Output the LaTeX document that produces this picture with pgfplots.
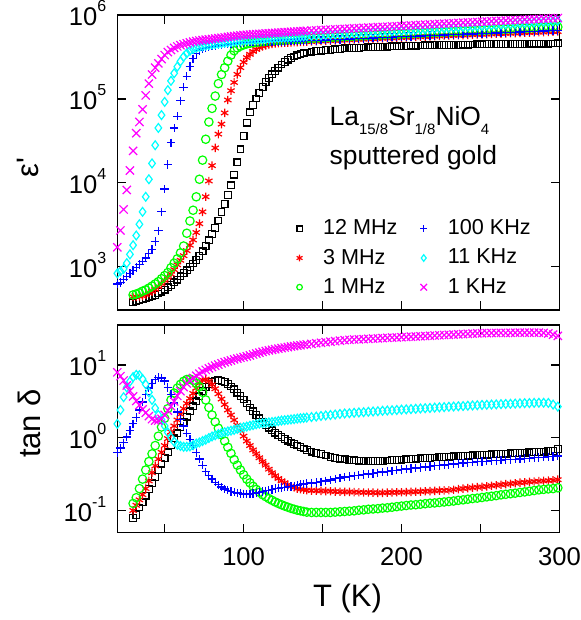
\documentclass[border=0pt]{standalone}
\usepackage{fontspec}
\setmainfont{Liberation Sans}
\usepackage{pgfplots}
\usepackage{pgfplotstable}
\pgfplotsset{compat=1.18}
\definecolor{ogreen}{RGB}{0,255,0}
\definecolor{ored}{RGB}{255,0,0}
\definecolor{oblue}{RGB}{0,0,255}
\definecolor{ocyan}{RGB}{0,255,255}
\definecolor{omag}{RGB}{255,0,255}
\newcommand*\sups[1]{\raisebox{7pt}{\fontsize{8}{9}\selectfont#1}}
\newcommand*\subs[1]{\raisebox{-4.5pt}{\fontsize{7.5}{8}\selectfont#1}}

\pgfplotstableread{
T bk rd gr bl cy mg
20 nan nan nan 620 830 1700
22 nan nan nan 650 880 2700
24 nan nan nan 700 940 4800
26 nan nan nan 760 1100 8200
28 nan nan nan 830 1400 14000
30 375 436 460 900 1800 24000
32 385 438 472 975 2350 39000
34 398 441 488 1060 3200 53000
36 412 446 510 1160 4500 75000
38 422 462 528 1270 6800 110000
40 433 482 555 1420 11000 152000
42 445 505 586 1600 17000 195000
44 458 535 622 1990 28000 235000
46 478 578 662 2670 45000 265000
48 503 625 718 4500 64000 298000
50 532 683 782 8400 92000 333000
52 565 745 850 16500 127000 362000
54 605 815 970 30000 164000 382000
56 648 920 1100 45000 202000 405000
58 700 1050 1240 62000 242000 422000
60 765 1190 1460 95000 280000 437000
62 835 1350 1760 138000 318000 448000
64 905 1550 2500 186000 350000 460000
66 990 1800 3500 242000 375000 470000
68 1090 2080 4700 300000 393000 481000
70 1200 2550 6800 345000 405000 489000
72 1340 3250 11000 376000 415000 496000
74 1520 4500 18600 397000 425000 502000
76 1760 6800 33000 408000 432000 508000
78 2060 10500 53000 417000 438000 513000
80 2450 16000 77000 425000 445000 518000
82 2900 26000 108000 432000 450000 524000
84 3550 38000 152000 438000 456000 530000
86 4450 50000 195000 443000 461000 536000
88 5600 68000 235000 448000 467000 542000
90 7100 97000 282000 452000 472000 548000
92 9300 125000 332000 456000 478000 554000
94 12500 157000 375000 460000 484000 560000
96 17500 196000 405000 464000 489000 566000
98 25000 236000 425000 468000 495000 571000
100 36000 274000 440000 472000 500000 577000
102 52000 310000 452000 473000 502000 581000
104 69000 340000 460000 474000 505000 584000
106 85000 368000 466000 475000 508000 588000
108 101000 390000 472000 476000 511000 591000
110 118000 408000 477000 477000 514000 595000
112 138000 422000 481000 478000 517000 598000
114 158000 434000 485000 479000 520000 602000
116 177000 444000 489000 480000 523000 605000
118 196000 451000 493000 481000 526000 609000
120 216000 457000 497000 482000 529000 612000
122 236000 461000 499000 483000 532000 616000
124 257000 464000 501000 484000 535000 619000
126 276000 467000 504000 485000 538000 623000
128 293000 469000 506000 486000 541000 626000
130 307000 471000 508000 487000 544000 630000
132 320000 473000 511000 488000 547000 633000
134 331000 475000 513000 489000 550000 637000
136 341000 477000 515000 490000 553000 640000
138 349000 479000 518000 491000 556000 644000
140 357000 481000 520000 492000 560000 647000
143 366e3 483e3 524e3 495e3 564e3 652e3
146 371e3 486e3 527e3 498e3 569e3 656e3
149 376e3 489e3 531e3 501e3 573e3 661e3
152 380e3 492e3 534e3 504e3 578e3 666e3
155 385e3 495e3 538e3 507e3 582e3 670e3
158 390e3 498e3 541e3 510e3 587e3 675e3
161 395e3 500e3 545e3 512e3 591e3 680e3
164 400e3 503e3 548e3 515e3 596e3 684e3
167 402e3 506e3 552e3 518e3 600e3 689e3
170 404e3 509e3 555e3 521e3 605e3 694e3
173 406e3 512e3 559e3 524e3 609e3 698e3
176 409e3 515e3 562e3 527e3 614e3 703e3
179 411e3 518e3 566e3 530e3 618e3 708e3
182 413e3 521e3 569e3 533e3 623e3 712e3
185 415e3 524e3 573e3 536e3 627e3 717e3
188 417e3 527e3 576e3 539e3 632e3 721e3
191 420e3 530e3 580e3 542e3 636e3 726e3
194 422e3 532e3 583e3 545e3 641e3 731e3
197 424e3 535e3 587e3 548e3 645e3 735e3
200 426e3 538e3 590e3 551e3 650e3 740e3
203 428e3 541e3 594e3 554e3 655e3 745e3
206 430e3 544e3 597e3 557e3 661e3 751e3
209 432e3 547e3 601e3 560e3 666e3 756e3
212 433e3 550e3 604e3 563e3 672e3 762e3
215 434e3 553e3 608e3 566e3 677e3 767e3
218 435e3 556e3 612e3 569e3 682e3 772e3
221 436e3 559e3 615e3 572e3 688e3 778e3
224 437e3 562e3 619e3 575e3 693e3 783e3
227 438e3 565e3 622e3 578e3 698e3 789e3
230 439e3 567e3 626e3 580e3 704e3 794e3
233 440e3 570e3 630e3 583e3 709e3 799e3
236 441e3 573e3 633e3 586e3 715e3 805e3
239 443e3 576e3 637e3 589e3 720e3 810e3
242 444e3 579e3 640e3 592e3 726e3 816e3
245 445e3 582e3 644e3 595e3 731e3 821e3
248 446e3 585e3 648e3 598e3 736e3 826e3
251 447e3 588e3 651e3 601e3 742e3 832e3
254 448e3 591e3 656e3 604e3 749e3 837e3
257 448e3 594e3 660e3 608e3 756e3 843e3
260 449e3 597e3 664e3 611e3 762e3 848e3
263 450e3 600e3 668e3 614e3 769e3 854e3
266 450e3 603e3 673e3 618e3 776e3 859e3
269 451e3 606e3 677e3 621e3 782e3 865e3
272 452e3 608e3 681e3 624e3 789e3 870e3
275 452e3 611e3 686e3 628e3 796e3 876e3
278 453e3 614e3 690e3 631e3 803e3 881e3
281 454e3 617e3 694e3 635e3 809e3 887e3
284 454e3 620e3 698e3 638e3 816e3 892e3
287 455e3 623e3 703e3 641e3 823e3 898e3
290 456e3 626e3 707e3 645e3 829e3 903e3
293 456e3 629e3 711e3 648e3 836e3 909e3
296 457e3 632e3 716e3 651e3 843e3 914e3
299 458e3 635e3 720e3 655e3 850e3 920e3
}\toptab

\pgfplotstableread{
T bk rd gr bl cy mg
20 nan nan nan 0.62 1.55 7.9
22 nan nan nan 0.72 2.40 7.0
24 nan nan nan 0.85 3.60 6.1
26 nan nan nan 1.02 4.90 5.2
28 nan nan nan 1.25 5.90 4.4
30 0.079 0.100 0.125 1.55 6.80 3.70
32 0.087 0.118 0.150 1.90 7.30 3.20
34 0.110 0.140 0.20 2.40 7.20 2.80
36 0.130 0.165 0.27 3.10 6.40 2.45
38 0.160 0.20 0.36 3.90 5.40 2.20
40 0.196 0.255 0.47 4.80 4.20 1.98
42 0.240 0.33 0.60 5.60 3.30 1.80
44 0.29 0.41 0.78 6.30 2.55 1.72
46 0.36 0.51 1.05 6.70 2.05 1.72
48 0.44 0.63 1.40 6.60 1.77 1.82
50 0.53 0.78 1.85 6.00 1.45 2.05
52 0.63 0.97 2.50 4.90 1.18 2.35
54 0.79 1.20 3.30 3.90 1.00 2.70
56 0.98 1.45 4.10 3.00 0.88 3.15
58 1.15 1.75 4.80 2.25 0.80 3.75
60 1.38 2.10 5.40 1.80 0.77 4.35
62 1.65 2.50 5.95 1.45 0.75 4.95
64 1.95 2.95 6.30 1.15 0.75 5.55
66 2.30 3.45 6.40 0.95 0.76 6.10
68 2.70 4.05 6.10 0.78 0.79 6.60
70 3.15 4.80 5.60 0.63 0.83 7.10
72 3.70 5.60 5.00 0.51 0.86 7.60
74 4.35 6.20 4.20 0.42 0.90 8.10
76 4.95 6.35 3.30 0.34 0.94 8.55
78 5.45 6.00 2.60 0.30 0.99 8.95
80 5.85 5.35 2.05 0.27 1.04 9.35
82 6.10 4.70 1.65 0.245 1.08 9.75
84 6.20 4.00 1.35 0.225 1.12 10.1
86 6.05 3.40 1.10 0.21 1.16 10.5
88 5.80 2.85 0.90 0.198 1.19 10.9
90 5.45 2.40 0.74 0.19 1.22 11.2
92 5.05 2.05 0.61 0.183 1.25 11.5
94 4.60 1.75 0.50 0.178 1.28 11.9
96 4.15 1.48 0.42 0.174 1.32 12.2
98 3.75 1.25 0.36 0.171 1.36 12.5
100 3.35 1.05 0.31 0.169 1.39 12.8
102 2.95 0.90 0.27 0.168 1.42 13.1
104 2.60 0.78 0.24 0.169 1.46 13.5
106 2.30 0.68 0.215 0.171 1.49 13.9
108 2.05 0.60 0.195 0.174 1.53 14.3
110 1.85 0.53 0.178 0.178 1.56 14.7
112 1.67 0.47 0.165 0.182 1.58 15.1
114 1.50 0.42 0.155 0.186 1.60 15.5
116 1.37 0.37 0.146 0.19 1.62 15.8
118 1.26 0.33 0.138 0.195 1.64 16.1
120 1.17 0.30 0.131 0.20 1.66 16.4
122 1.09 0.275 0.125 0.203 1.69 16.7
124 1.02 0.255 0.12 0.206 1.72 17.0
126 0.96 0.24 0.115 0.209 1.74 17.3
128 0.91 0.225 0.111 0.212 1.76 17.6
130 0.86 0.215 0.107 0.215 1.78 17.9
132 0.82 0.207 0.104 0.219 1.80 18.1
134 0.78 0.20 0.101 0.223 1.83 18.4
136 0.74 0.196 0.099 0.227 1.85 18.6
138 0.71 0.193 0.097 0.231 1.87 18.9
140 0.68 0.19 0.095 0.235 1.89 19.1
143 0.645 0.188 0.094 0.238 1.92 19.4
146 0.62 0.187 0.094 0.243 1.95 19.8
149 0.595 0.186 0.094 0.248 1.99 20.1
152 0.57 0.185 0.094 0.255 2.02 20.5
155 0.545 0.184 0.094 0.263 2.05 20.8
158 0.53 0.182 0.095 0.272 2.08 21.2
161 0.515 0.181 0.096 0.28 2.12 21.5
164 0.503 0.18 0.097 0.288 2.15 21.9
167 0.495 0.18 0.098 0.294 2.17 22.1
170 0.49 0.179 0.099 0.30 2.20 22.3
173 0.484 0.178 0.101 0.306 2.22 22.4
176 0.48 0.177 0.102 0.312 2.24 22.6
179 0.48 0.177 0.104 0.318 2.27 22.8
182 0.48 0.176 0.105 0.324 2.29 23.0
185 0.48 0.175 0.106 0.33 2.31 23.1
188 0.482 0.175 0.108 0.337 2.34 23.3
191 0.487 0.176 0.109 0.344 2.36 23.5
194 0.491 0.177 0.111 0.351 2.38 23.7
197 0.496 0.178 0.113 0.358 2.40 23.8
200 0.50 0.178 0.115 0.365 2.43 24.0
203 0.505 0.179 0.117 0.371 2.45 24.2
206 0.51 0.18 0.119 0.378 2.47 24.4
209 0.515 0.181 0.12 0.384 2.49 24.5
212 0.52 0.182 0.122 0.391 2.52 24.7
215 0.525 0.184 0.124 0.397 2.54 24.9
218 0.53 0.185 0.126 0.404 2.56 25.1
221 0.535 0.186 0.127 0.41 2.59 25.3
224 0.54 0.188 0.129 0.417 2.61 25.5
227 0.545 0.189 0.131 0.423 2.63 25.7
230 0.55 0.19 0.133 0.43 2.66 25.9
233 0.555 0.193 0.135 0.436 2.68 26.1
236 0.56 0.197 0.138 0.442 2.70 26.3
239 0.564 0.20 0.14 0.448 2.72 26.5
242 0.568 0.203 0.143 0.454 2.75 26.7
245 0.572 0.206 0.146 0.46 2.77 26.9
248 0.577 0.209 0.148 0.466 2.79 27.1
251 0.582 0.211 0.151 0.472 2.82 27.2
254 0.586 0.215 0.154 0.476 2.83 27.3
257 0.591 0.219 0.157 0.481 2.85 27.4
260 0.595 0.222 0.16 0.486 2.87 27.4
263 0.60 0.226 0.164 0.491 2.89 27.5
266 0.605 0.23 0.167 0.496 2.91 27.5
269 0.61 0.233 0.17 0.50 2.92 27.6
272 0.613 0.237 0.173 0.505 2.94 27.6
275 0.618 0.241 0.177 0.51 2.96 27.7
278 0.624 0.244 0.18 0.516 2.98 27.7
281 0.629 0.247 0.184 0.523 2.99 27.7
284 0.634 0.25 0.188 0.529 3.01 27.7
287 0.64 0.253 0.192 0.535 3.02 27.7
290 0.645 0.255 0.195 0.541 3.02 27.5
293 0.652 0.257 0.198 0.548 3.00 27.0
296 0.66 0.26 0.20 0.554 2.85 26.0
299 0.70 0.265 0.205 0.56 2.67 25.0
}\bottab

\pgfplotsset{
  sbk/.style={only marks, mark=square, mark size=1.67pt, black, mark options={line width=0.6pt}},
  srd/.style={only marks, mark=asterisk, mark size=2.1pt, ored, mark options={line width=0.6pt}},
  sgr/.style={only marks, mark=o, mark size=2.1pt, ogreen, mark options={line width=0.6pt}},
  sbl/.style={only marks, mark=+, mark size=2.1pt, oblue, mark options={line width=0.6pt}},
  scy/.style={only marks, mark=diamond, mark size=2.2pt, ocyan, mark options={line width=0.6pt}},
  smg/.style={only marks, mark=x, mark size=2.9pt, omag, mark options={line width=0.6pt}},
}

\begin{document}
\begin{tikzpicture}
\path[use as bounding box] (0,0) rectangle (290.5pt,310pt);
\begin{semilogyaxis}[
  scale only axis, width=221.05pt, height=147.5pt,
  at={(58.65pt,155pt)}, anchor=south west,
  xmin=20, xmax=300, ymin=304, ymax=1e6,
  xtick={50,100,150,200,250,300}, xticklabels={},
  ytick={1e3,1e4,1e5,1e6},
  yticklabels={10\sups{3},10\sups{4},10\sups{5},10\sups{6}},
  yminorticks=false,
  tick align=inside, major tick length=4.3pt,
  axis line style={line width=0.7pt},
  tick style={black, line width=0.7pt},
  tick label style={font=\fontsize{12.8}{14}\selectfont},
  yticklabel style={anchor=base east, inner sep=0pt, xshift=-5.3pt, yshift=-5.5pt},
  ylabel={ε\textquotesingle},
  ylabel style={font=\fontsize{15.5}{18}\selectfont, at={(axis description cs:-0.1787,0.4837)}, rotate=0, anchor=base},
  legend columns=2,
  legend cell align=left,
  legend style={draw=none, fill=none, inner sep=0pt, outer sep=0pt,
    at={(axis description cs:0.4056,0.3163)}, anchor=north west,
    font=\fontsize{10.8}{12}\selectfont, row sep=2.6pt,
    nodes={inner sep=1.5pt},
    /tikz/every odd column/.append style={column sep=8.8pt},
    /tikz/every even column/.append style={column sep=9.8pt}},
]
\addlegendimage{only marks, mark=square, mark size=1.33pt, black, mark options={line width=0.6pt}}
\addlegendentry{12 MHz}
\addlegendimage{only marks, mark=+, mark size=1.8pt, oblue, mark options={line width=0.6pt}}
\addlegendentry{100 KHz}
\addlegendimage{only marks, mark=asterisk, mark size=1.7pt, ored, mark options={line width=0.6pt}}
\addlegendentry{3 MHz}
\addlegendimage{only marks, mark=diamond, mark size=1.65pt, ocyan, mark options={line width=0.6pt}}
\addlegendentry{11 KHz}
\addlegendimage{only marks, mark=o, mark size=1.4pt, ogreen, mark options={line width=0.6pt}}
\addlegendentry{1 MHz}
\addlegendimage{only marks, mark=x, mark size=2.35pt, omag, mark options={line width=0.6pt}}
\addlegendentry{1 KHz}
\addplot[sbk, forget plot] table[x=T, y=bk] {\toptab};
\addplot[srd, forget plot] table[x=T, y=rd] {\toptab};
\addplot[sgr, forget plot] table[x=T, y=gr] {\toptab};
\addplot[sbl, forget plot] table[x=T, y=bl] {\toptab};
\addplot[scy, forget plot] table[x=T, y=cy] {\toptab};
\addplot[smg, forget plot] table[x=T, y=mg] {\toptab};
\node[anchor=base west, font=\fontsize{13.2}{15}\selectfont, inner sep=0pt] at (rel axis cs:0.4795,0.6237) {La\subs{15/8}Sr\subs{1/8}NiO\subs{4}};
\node[anchor=base west, font=\fontsize{13.2}{15}\selectfont, inner sep=0pt] at (rel axis cs:0.4795,0.4915) {sputtered gold};
\end{semilogyaxis}

\begin{semilogyaxis}[
  scale only axis, width=221.05pt, height=103.65pt,
  at={(58.65pt,43.85pt)}, anchor=south west,
  xmin=20, xmax=300, ymin=0.0502, ymax=35.3,
  xtick={50,100,150,200,250,300}, xticklabels={,100,,200,,300},
  ytick={0.1,1,10},
  yticklabels={10\sups{-1},10\sups{0},10\sups{1}},
  yminorticks=false,
  tick align=inside, major tick length=4.3pt,
  axis line style={line width=0.7pt},
  tick style={black, line width=0.7pt},
  tick label style={font=\fontsize{12.8}{14}\selectfont},
  yticklabel style={anchor=base east, inner sep=0pt, xshift=-5.3pt, yshift=-5.5pt},
  xticklabel style={anchor=base, inner sep=0pt, yshift=-16.35pt},
  ylabel={tan δ},
  ylabel style={font=\fontsize{15.5}{18}\selectfont, at={(axis description cs:-0.1748,0.525)}, rotate=0, anchor=base},
  xlabel={T (K)},
  xlabel style={font=\fontsize{15.5}{18}\selectfont, at={(axis description cs:0.5207,0)}, anchor=base, yshift=-36.85pt},
]
\addplot[sbk] table[x=T, y=bk] {\bottab};
\addplot[srd] table[x=T, y=rd] {\bottab};
\addplot[sgr] table[x=T, y=gr] {\bottab};
\addplot[sbl] table[x=T, y=bl] {\bottab};
\addplot[scy] table[x=T, y=cy] {\bottab};
\addplot[smg] table[x=T, y=mg] {\bottab};
\end{semilogyaxis}
\end{tikzpicture}
\end{document}
